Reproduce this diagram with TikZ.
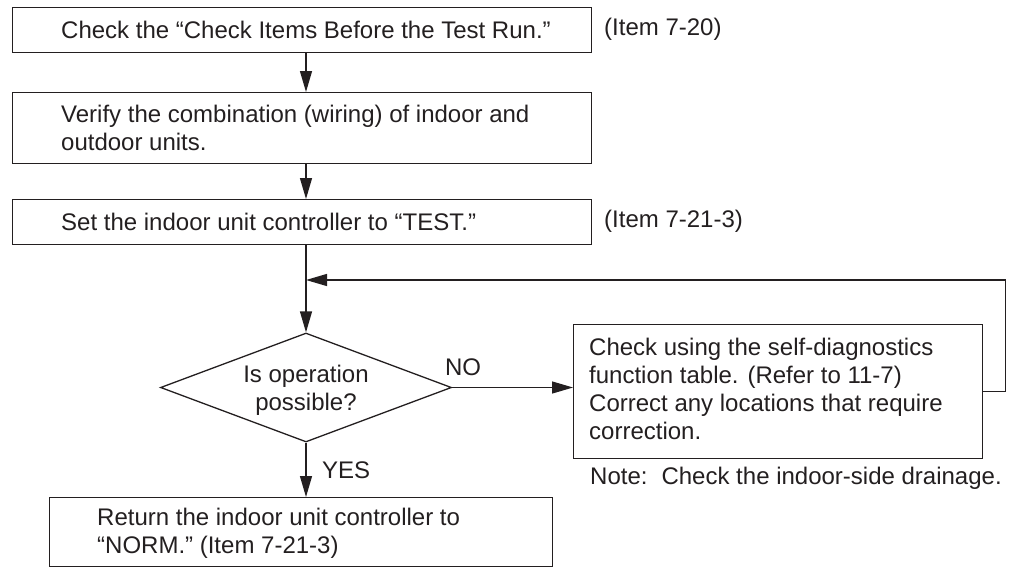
\documentclass[tikz,border=0pt]{standalone}
\usepackage{fontspec}
\setmainfont{Liberation Sans}
\usetikzlibrary{arrows.meta,shapes.geometric}
\definecolor{ink}{HTML}{231F20}
\begin{document}
\begin{tikzpicture}[x=1pt,y=-1pt,
  box/.style={draw=ink, line width=1.3pt, rectangle, inner sep=0pt, anchor=north west},
  dia/.style={draw=ink, line width=1.3pt, diamond, inner sep=0pt},
  txt/.style={text=ink, inner sep=0pt, align=left, anchor=west, font=\fontsize{24pt}{28pt}\selectfont},
  ctxt/.style={txt, align=center, anchor=center},
  conn/.style={draw=ink, line width=1.3pt},
  arr/.style={conn, -{Triangle[length=21pt,width=12pt]}},
]
\useasboundingbox (0,0) rectangle (1010,568);
% boxes
\node[box, minimum width=579pt, minimum height=45pt] (b1) at (12,7) {};
\node[box, minimum width=579pt, minimum height=71pt] (b2) at (12,92) {};
\node[box, minimum width=579pt, minimum height=45pt] (b3) at (12,199) {};
\node[dia, minimum width=291pt, minimum height=109pt] (d) at (306,387.5) {};
\node[box, minimum width=409pt, minimum height=134pt] (b4) at (573,324) {};
\node[box, minimum width=503pt, minimum height=69pt] (b5) at (49,497) {};
% texts
\node[txt] (t1) at (61,29.5) {Check the “Check Items Before the Test Run.”};
\node[txt] (t2) at (61,127.5) {Verify the combination (wiring) of indoor and\\outdoor units.};
\node[txt] (t3) at (61,221.5) {Set the indoor unit controller to “TEST.”};
\node[ctxt] (td) at (306,390) {Is operation\\possible?};
\node[txt] (t4) at (589,389) {Check using the self-diagnostics\\function table. (Refer to 11-7)\\Correct any locations that require\\correction.};
\node[txt] (t5) at (97,533) {Return the indoor unit controller to\\“NORM.” (Item 7-21-3)};
\node[txt] (i1) at (604,29.5) {(Item 7-20)};
\node[txt] (i2) at (604,221.5) {(Item 7-21-3)};
\node[ctxt] (no) at (463,367) {NO};
\node[txt] (yes) at (322,470) {YES};
\node[txt] (note) at (590,478) {Note:\hspace{14pt}Check the indoor-side drainage.};
% connectors
\coordinate (join) at (306,280);
\draw[arr] (b1.south -| d.north) -- (b2.north -| d.north);
\draw[arr] (b2.south -| d.north) -- (b3.north -| d.north);
\draw[arr] (b3.south -| d.north) -- (d.north);
\draw[arr] (d.east) -- (d.east -| b4.west);
\draw[arr] (d.south) -- (b5.north -| d.south);
\draw[arr] (b4.east) -- ++(22,0) |- (join);
\end{tikzpicture}
\end{document}
